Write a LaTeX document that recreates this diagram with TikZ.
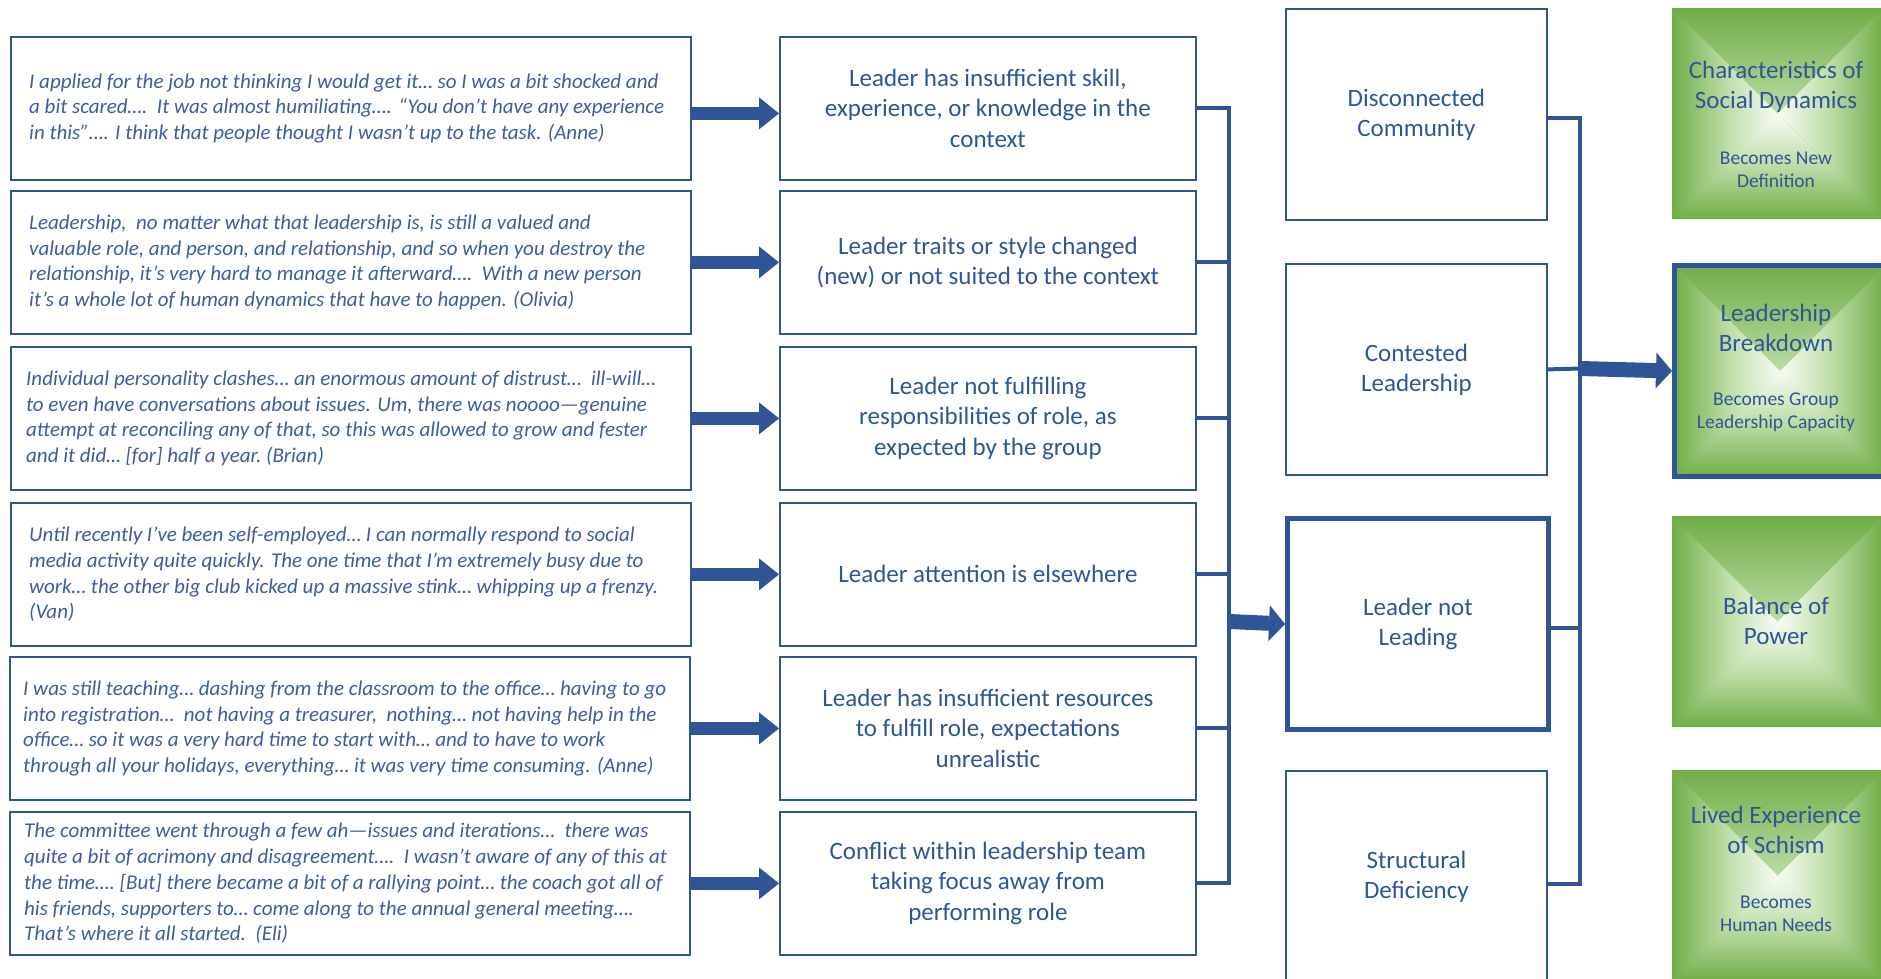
\documentclass[tikz,border=0pt]{standalone}
\usepackage{fontspec}
\setmainfont{Carlito}
\usetikzlibrary{arrows.meta,calc}

\definecolor{navy}{RGB}{47,85,151}
\definecolor{quotecol}{RGB}{62,92,158}
\definecolor{gedge}{RGB}{112,173,71}
\definecolor{gmid}{RGB}{188,220,165}
\definecolor{gcentre}{RGB}{248,252,245}

\tikzset{
  quotebox/.style={draw=navy, line width=1.8pt, minimum width=680pt, minimum height=143pt,
    anchor=north west, inner sep=0pt},
  quotetext/.style={anchor=west, align=left, text=quotecol, inner sep=0pt,
    font=\fontsize{21}{25.8}\selectfont\itshape},
  causebox/.style={draw=navy, line width=1.8pt, minimum width=416pt, minimum height=143pt,
    anchor=north west, align=center, text=navy, inner sep=0pt,
    font=\fontsize{25}{30.4}\selectfont},
  themebox/.style={draw=navy, line width=1.8pt, minimum width=261pt, minimum height=211pt,
    anchor=north west, align=center, text=navy, inner sep=0pt,
    font=\fontsize{25}{30}\selectfont},
  focusbox/.style={themebox, line width=5pt},
  greenbox/.style={minimum width=211pt, minimum height=211pt, anchor=north west, inner sep=0pt,
    fill=gedge,
    path picture={
      \shade[top color=gedge, bottom color=gcentre, middle color=gmid]
        (path picture bounding box.north west) -- (path picture bounding box.north east)
        -- (path picture bounding box.center) -- cycle;
      \shade[top color=gcentre, bottom color=gedge, middle color=gmid]
        (path picture bounding box.south west) -- (path picture bounding box.south east)
        -- (path picture bounding box.center) -- cycle;
      \shade[left color=gedge, right color=gcentre, middle color=gmid]
        (path picture bounding box.north west) -- (path picture bounding box.south west)
        -- (path picture bounding box.center) -- cycle;
      \shade[left color=gcentre, right color=gedge, middle color=gmid]
        (path picture bounding box.north east) -- (path picture bounding box.south east)
        -- (path picture bounding box.center) -- cycle;
    }},
  focusgreen/.style={greenbox, draw=navy, line width=5pt},
  gtitle/.style={align=center, text=navy, inner sep=0pt, font=\fontsize{25}{30}\selectfont},
  gsub/.style={align=center, text=navy, inner sep=0pt, font=\fontsize{19.5}{23}\selectfont},
  link/.style={draw=navy, line width=4pt, line join=miter},
  blockarrow/.style={draw=navy, line width=13pt,
    -{Triangle[length=20pt, width=32pt, line width=0pt]}},
  bigarrow/.style={draw=navy, line width=15pt,
    -{Triangle[length=16pt, width=36pt, line width=0pt]}},
}

\begin{document}
\begin{tikzpicture}[x=1pt, y=-1pt]
\useasboundingbox (0,0) rectangle (1881,979);

% ---------- quotations ----------
\node[quotebox] (q1) at (10,36) {};
\node[quotebox] (q2) at (10,190) {};
\node[quotebox] (q3) at (10,346) {};
\node[quotebox] (q4) at (10,502) {};
\node[quotebox] (q5) at (9,656) {};
\node[quotebox] (q6) at (9,811) {};

\node[quotetext] (q1t) at ([xshift=19pt]q1.west) {I applied for the job not thinking I would get it… so I was a bit shocked and\\
a bit scared….\ \ It was almost humiliating…. “You don’t have any experience\\
in this”…. I think that people thought I wasn’t up to the task. (Anne)};
\node[quotetext] (q2t) at ([xshift=19pt]q2.west) {Leadership,\ \ no matter\ what that leadership is, is still a valued and\\
valuable role, and person, and relationship, and so when you destroy the\\
relationship, it’s very hard to manage it afterward….\ \ With a new person\\
it’s a whole lot of human dynamics that have to happen. (Olivia)};
\node[quotetext] (q3t) at ([xshift=16pt]q3.west) {Individual personality clashes… an enormous amount of distrust…\ \ ill-will…\\
to even\ have conversations about issues. Um, there\ was noooo—genuine\\
attempt\ at reconciling\ any of that, so this was allowed to grow and fester\\
and it did… [for] half a year.\ (Brian)};
\node[quotetext] (q4t) at ([xshift=19pt]q4.west) {Until recently\ I've been\ self-employed… I can\ normally respond to social\\
media activity\ quite quickly. The one time\ that I'm extremely\ busy due to\\
work… the other big club kicked up a massive stink… whipping up a frenzy.\\
(Van)};
\node[quotetext] (q5t) at ([xshift=14pt]q5.west) {I was still teaching… dashing from the classroom to the office… having to go\\
into registration…\ \ not having a treasurer,\ \ nothing… not having help in the\\
office… so it was a very hard time\ to start\ with… and to have to work\\
through all your holidays, everything… it was very\ time\ consuming. (Anne)};
\node[quotetext] (q6t) at ([xshift=15pt]q6.west) {The committee\ went through a few ah—issues and iterations…\ \ there\ was\\
quite a bit of acrimony\ and disagreement….\ \ I wasn't aware of any of this at\\
the time….\ [But]\ there\ became a bit of a rallying point… the coach got all of\\
his friends, supporters to… come along to the annual general meeting….\\
That's where it all started.\ \ (Eli)};

% ---------- causes ----------
\node[causebox] (m1) at (779,36) {Leader has insufficient skill,\\experience, or\ knowledge in the\\context};
\node[causebox] (m2) at (779,190) {Leader traits or\ style changed\\(new) or\ not\ suited to the\ context};
\node[causebox] (m3) at (779,346) {Leader not\ fulfilling\\responsibilities of role, as\\expected by the\ group};
\node[causebox] (m4) at (779,502) {Leader attention\ is elsewhere};
\node[causebox] (m5) at (779,656) {Leader has insufficient resources\\to fulfill role, expectations\\unrealistic};
\node[causebox] (m6) at (779,811) {Conflict within\ leadership team\\taking focus away from\\performing\ role};

% ---------- themes ----------
\node[themebox] (c1) at (1285,8) {Disconnected\\Community};
\node[themebox] (c2) at (1285,263) {Contested\\Leadership};
\node[focusbox] (c3) at (1285,516) {Leader not\\Leading};
\node[themebox] (c4) at (1285,770) {Structural\\Deficiency};

% ---------- outcomes ----------
\node[greenbox] (g1) at (1672,8) {};
\node[focusgreen] (g2) at (1672,263) {};
\node[greenbox] (g3) at (1672,516) {};
\node[greenbox] (g4) at (1672,770) {};

\node[gtitle] (g1t) at (1776,87) {Characteristics of\\Social Dynamics};
\node[gsub] (g1s) at (1776,170) {Becomes New\\Definition};
\node[gtitle] (g2t) at (1776,328) {Leadership\\Breakdown};
\node[gsub] (g2s) at (1776,412) {Becomes Group\\Leadership Capacity};
\node[gtitle] (g3t) at (1776,621) {Balance of\\Power};
\node[gtitle] (g4t) at (1776,830) {Lived Experience\\of Schism};
\node[gsub] (g4s) at (1776,914) {Becomes\\Human Needs};

% ---------- quotation -> cause arrows ----------
\draw[blockarrow] ([yshift=-5pt]q1.east) -- ([yshift=-5pt]m1.west);
\foreach \i in {2,...,6} {
  \draw[blockarrow] (q\i.east) -- (m\i.west);
}

% ---------- causes merge into "Leader not Leading" ----------
\coordinate (jA) at (1229,621.5);
\draw[link] (m1.east) -| (jA) |- (m6.east);
\foreach \i in {2,...,5} {
  \draw[link] (m\i.east) -- (m\i.east -| jA);
}
\draw[bigarrow] (jA) -- (c3.west);

% ---------- themes merge into "Leadership Breakdown" ----------
\coordinate (jB) at (1580,368.5);
\draw[link] ([yshift=-4pt]c1.east) -| (jB) |- ([yshift=-8pt]c4.east);
\draw[link] (c2.east) -- (jB);
\draw[link] ([yshift=-4pt]c3.east) -- ([yshift=-4pt]c3.east -| jB);
\draw[bigarrow] (jB) -- (g2.west);
\end{tikzpicture}
\end{document}
